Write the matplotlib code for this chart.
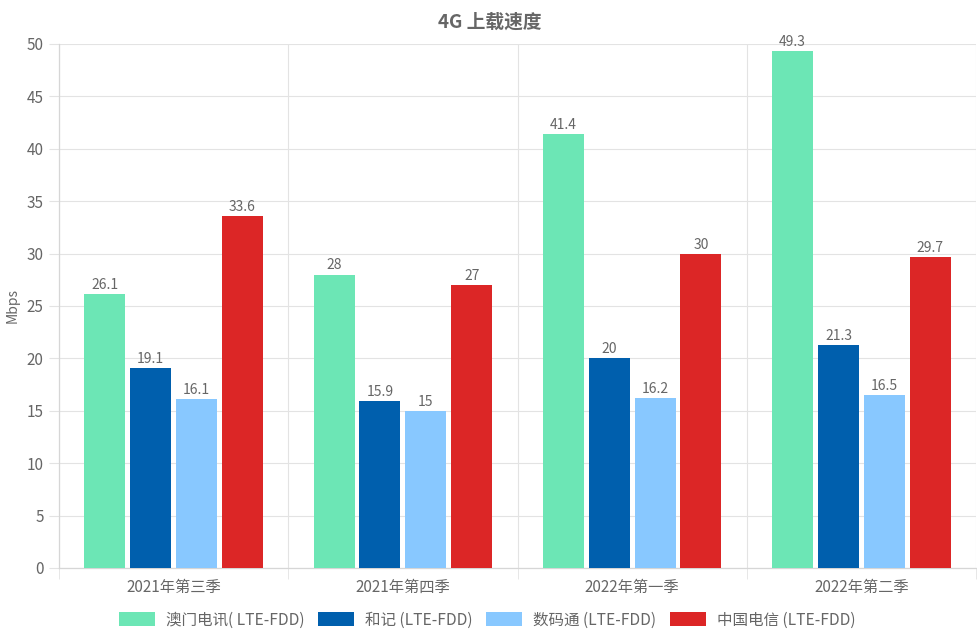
import numpy as np
import matplotlib
matplotlib.use("Agg")
import matplotlib.pyplot as plt
from matplotlib.patches import Patch

plt.rcParams['font.family'] = ['Noto Sans CJK SC', 'DejaVu Sans']

# ── Data ─────────────────────────────────────────────────────────────────────
quarters = ["2021年第三季", "2021年第四季", "2022年第一季", "2022年第二季"]
series_names = ["澳门电讯( LTE-FDD)", "和记 (LTE-FDD)", "数码通 (LTE-FDD)", "中国电信 (LTE-FDD)"]
ctm = [26.1, 28, 41.4, 49.3]
hutchison = [19.1, 15.9, 20, 21.3]
smartone = [16.1, 15, 16.2, 16.5]
china_telecom = [33.6, 27, 30, 29.7]
yticks = [0, 5, 10, 15, 20, 25, 30, 35, 40, 45, 50]

COLORS = ["#6ce6b5", "#005fad", "#88c8ff", "#dc2626"]
TEXT = "#666666"
GRID = "#e3e3e3"

# ── Figure ───────────────────────────────────────────────────────────────────
W, H = 977, 638
fig = plt.figure(figsize=(W / 100, H / 100), dpi=100)
ax = fig.add_axes([59 / W, 1 - 568 / H, (976 - 59) / W, (568 - 44) / H])

x = np.arange(len(quarters))
slot = 0.2
bar_w = 0.179
for k, vals in enumerate([ctm, hutchison, smartone, china_telecom]):
    pos = x + (k - 1.5) * slot
    bars = ax.bar(pos, vals, width=bar_w, color=COLORS[k], zorder=3)
    for b, v in zip(bars, vals):
        ax.text(b.get_x() + b.get_width() / 2, v + 0.2, f"{v:g}",
                ha="center", va="bottom", fontsize=10, color=TEXT, zorder=4)

ax.set_xlim(-0.5, len(quarters) - 0.5)
ax.set_ylim(0, 50)
ax.set_yticks(yticks)
ax.set_yticklabels([str(t) for t in yticks], fontsize=11, color=TEXT)
ax.set_xticks(x)
ax.set_xticklabels(quarters, fontsize=11, color=TEXT)
ax.set_xticks(np.arange(-0.5, len(quarters)), minor=True)

ax.tick_params(axis="x", which="major", length=0, pad=8)
ax.tick_params(axis="x", which="minor", length=8, color=GRID)
ax.tick_params(axis="y", length=7, color=GRID, pad=4)

ax.grid(axis="y", color=GRID, linewidth=0.8, zorder=0)
ax.grid(axis="x", which="minor", color=GRID, linewidth=0.8, zorder=0)
for side in ["top", "right"]:
    ax.spines[side].set_visible(False)
for side in ["left", "bottom"]:
    ax.spines[side].set_color("#d6d6d6")
    ax.spines[side].set_linewidth(0.9)

fig.text(13 / W, 1 - 306 / H, "Mbps", rotation=90, ha="center", va="center",
         fontsize=10, color=TEXT)
fig.text(490 / W, 1 - 22 / H, "4G 上载速度", ha="center", va="center",
         fontsize=13.5, fontweight="bold", color=TEXT)

handles = [Patch(facecolor=c, edgecolor="none") for c in COLORS]
fig.legend(handles, series_names, loc="center", bbox_to_anchor=(487 / W, 1 - 620 / H),
           ncol=4, frameon=False, fontsize=11.2, handlelength=2.3, handleheight=1.0,
           columnspacing=0.9, handletextpad=0.7, labelcolor=TEXT)

fig.savefig("out.png", dpi=100)
